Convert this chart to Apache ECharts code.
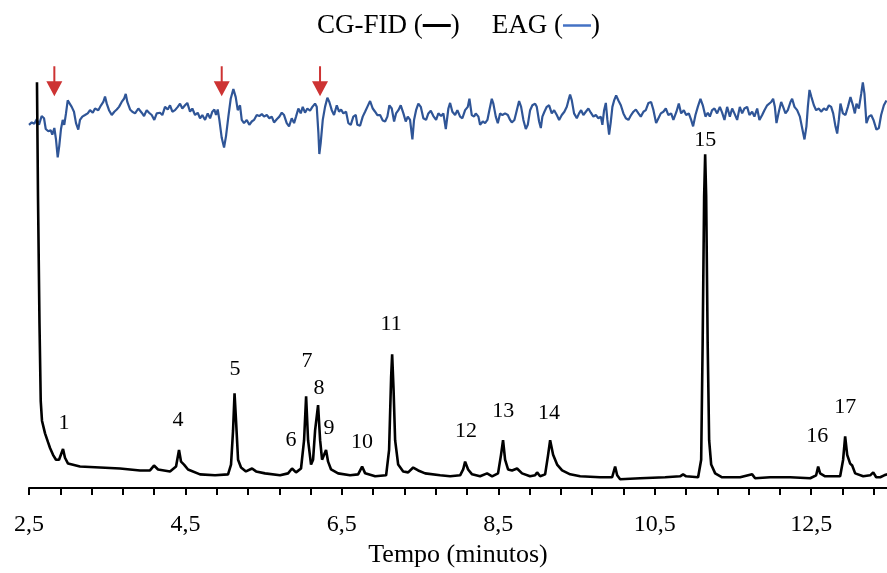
<!DOCTYPE html>
<html>
<head>
<meta charset="utf-8">
<script src="https://cdn.jsdelivr.net/npm/echarts@6/dist/echarts.min.js"></script>
<style>
  html, body { margin: 0; padding: 0; background: #fff; overflow: hidden; }
  #container { width: 887px; height: 573px; }
</style>
</head>
<body>
<div id="container"></div>
<script type="text/javascript">

// CG-FID trace: [tempo (min), sinal]
var fidTrace = [
  [2.602,41.6],[2.615,29.9],[2.634,16.9],[2.650,8.9],[2.666,6.9],[2.705,5.6],[2.743,4.7],[2.769,4.1],
  [2.807,3.4],[2.845,2.9],[2.884,2.9],[2.909,3.1],[2.935,4.0],[2.960,3.1],[2.999,2.5],[3.152,2.2],
  [3.408,2.1],[3.664,2.0],[3.919,1.8],[4.047,1.8],[4.098,2.3],[4.150,1.9],[4.303,1.7],[4.380,2.2],
  [4.418,3.9],[4.444,2.7],[4.482,2.4],[4.533,1.9],[4.687,1.4],[4.879,1.3],[5.045,1.4],[5.083,2.4],
  [5.109,5.9],[5.128,9.7],[5.147,6.9],[5.173,2.9],[5.211,2.1],[5.274,1.7],[5.352,2.0],[5.403,1.7],
  [5.518,1.5],[5.710,1.3],[5.812,1.5],[5.863,2.0],[5.914,1.6],[5.978,2.0],[6.017,4.9],[6.043,9.4],
  [6.068,4.9],[6.106,2.4],[6.132,2.9],[6.158,5.9],[6.196,8.5],[6.222,4.9],[6.247,2.9],[6.273,3.4],
  [6.298,3.9],[6.324,2.7],[6.362,1.9],[6.452,1.5],[6.605,1.3],[6.708,1.4],[6.759,2.2],[6.798,1.5],
  [6.926,1.2],[7.066,1.3],[7.104,3.9],[7.130,11.4],[7.143,13.7],[7.162,9.9],[7.181,4.9],[7.220,2.4],
  [7.284,1.7],[7.348,1.6],[7.412,2.1],[7.476,1.8],[7.565,1.5],[7.757,1.3],[7.885,1.2],[8.012,1.3],
  [8.051,1.9],[8.076,2.7],[8.114,1.9],[8.165,1.4],[8.267,1.2],[8.357,1.5],[8.421,1.2],[8.497,1.5],
  [8.535,3.4],[8.561,4.9],[8.587,2.9],[8.625,1.9],[8.676,1.8],[8.740,2.0],[8.804,1.5],[8.906,1.2],
  [8.971,1.3],[8.996,1.6],[9.035,1.2],[9.099,1.4],[9.137,3.4],[9.163,4.9],[9.201,3.4],[9.252,2.4],
  [9.316,1.8],[9.419,1.4],[9.547,1.2],[9.802,1.1],[9.956,1.1],[9.994,2.2],[10.020,1.3],[10.058,0.9],
  [10.314,1.0],[10.633,1.1],[10.825,1.2],[10.863,1.4],[10.902,1.2],[11.055,1.1],[11.094,2.9],[11.113,14.9],
  [11.132,29.9],[11.145,34.2],[11.158,29.9],[11.177,14.9],[11.196,4.9],[11.222,2.4],[11.273,1.5],[11.362,1.1],
  [11.592,1.1],[11.746,1.4],[11.784,1.0],[11.976,1.1],[12.232,1.1],[12.488,1.0],[12.564,1.3],[12.590,2.2],
  [12.615,1.5],[12.679,1.2],[12.769,1.2],[12.871,1.2],[12.909,2.9],[12.935,5.3],[12.961,3.4],[12.999,2.5],
  [13.025,2.3],[13.063,1.5],[13.166,1.2],[13.255,1.3],[13.294,1.6],[13.332,1.1],[13.383,1.1],[13.434,1.3],
  [13.472,1.4]
];

// EAG trace: [tempo (min), sinal]
var eagTrace = [
  [2.500,-0.47],[2.535,-0.23],[2.568,-0.37],[2.598,0.10],[2.628,-0.47],[2.662,0.43],[2.692,0.20],[2.714,-0.90],
  [2.747,-1.13],[2.777,-1.03],[2.798,-1.47],[2.824,-0.80],[2.845,-1.97],[2.867,-3.80],[2.887,-2.63],[2.909,-0.90],
  [2.931,0.03],[2.951,-0.47],[2.973,0.70],[2.995,2.03],[3.020,2.20],[3.046,1.37],[3.075,0.87],[3.101,-0.30],
  [3.130,-0.97],[3.152,0.03],[3.182,0.37],[3.216,0.53],[3.251,0.70],[3.280,1.03],[3.315,0.77],[3.344,1.20],
  [3.386,1.03],[3.421,1.53],[3.450,1.87],[3.472,2.43],[3.494,1.70],[3.523,1.03],[3.558,0.53],[3.591,0.87],
  [3.622,1.10],[3.651,1.37],[3.685,1.87],[3.715,2.20],[3.737,2.70],[3.757,1.87],[3.792,1.10],[3.821,0.87],
  [3.856,0.70],[3.898,1.20],[3.941,0.77],[3.971,0.43],[4.005,1.03],[4.035,0.77],[4.069,0.53],[4.102,0.03],
  [4.133,0.70],[4.175,0.77],[4.205,0.53],[4.239,1.37],[4.274,1.10],[4.303,1.53],[4.333,0.87],[4.367,1.03],
  [4.402,1.37],[4.431,1.70],[4.460,1.20],[4.495,1.53],[4.524,1.77],[4.559,0.87],[4.588,1.20],[4.623,0.53],
  [4.657,0.77],[4.687,0.20],[4.716,0.53],[4.751,0.03],[4.785,0.70],[4.815,0.20],[4.844,0.87],[4.870,1.10],
  [4.891,0.53],[4.913,1.10],[4.934,0.03],[4.964,-1.80],[4.994,-2.80],[5.019,-1.63],[5.049,0.37],[5.079,2.20],
  [5.113,3.20],[5.143,2.37],[5.169,1.03],[5.198,1.53],
  [5.220,0.03],[5.249,-0.30],[5.284,0.03],[5.317,-0.47],[5.348,-0.13],[5.377,0.03],[5.412,0.53],[5.445,0.43],
  [5.476,0.63],[5.505,0.37],[5.540,0.53],[5.573,0.20],[5.604,0.37],[5.633,-0.23],[5.668,0.10],[5.701,0.37],
  [5.732,0.77],[5.761,0.53],[5.795,-0.30],[5.825,-0.63],[5.859,0.20],[5.889,-0.30],[5.914,0.37],[5.944,1.20],
  [5.974,0.70],[6.000,1.37],[6.029,0.77],[6.059,1.20],[6.093,0.97],[6.123,1.37],[6.157,1.70],[6.179,1.37],
  [6.200,-1.30],[6.212,-3.47],[6.230,-2.30],[6.256,0.03],[6.285,1.37],[6.315,2.30],[6.340,1.87],[6.371,1.03],
  [6.400,0.53],[6.435,1.53],[6.464,0.87],[6.490,1.10],[6.519,0.70],[6.554,0.87],[6.583,-0.30],[6.614,-0.47],
  [6.647,0.37],[6.678,0.53],[6.698,-0.47],[6.733,-0.57],[6.767,0.37],[6.797,0.87],[6.826,1.37],[6.861,1.97],
  [6.895,1.20],[6.925,0.87],[6.954,0.53],[6.989,0.53],[7.023,-0.03],[7.053,-0.13],[7.082,0.37],[7.108,1.53],
  [7.138,1.20],[7.168,-0.13],[7.193,0.70],[7.223,1.03],[7.253,1.53],[7.287,0.70],[7.317,-0.13],[7.343,0.37],
  [7.372,0.03],[7.402,-1.97],[7.423,0.03],[7.449,1.03],[7.478,1.70],[7.509,1.37],[7.542,0.20],[7.577,0.03],
  [7.606,0.70],[7.637,0.97],[7.670,0.43],[7.705,0.03],[7.734,0.70],[7.769,0.43],[7.798,0.70],[7.829,-0.90],
  [7.862,1.20],[7.884,1.77],[7.913,0.87],[7.948,0.53],[7.977,1.03],[8.012,0.37],
  [8.041,0.20],[8.076,1.03],[8.110,1.37],[8.131,2.20],[8.161,0.53],[8.191,0.37],[8.212,0.70],[8.246,0.37],
  [8.267,-0.47],[8.302,-0.13],[8.331,-0.30],[8.361,0.03],[8.386,1.03],[8.417,2.20],[8.437,1.70],[8.468,0.37],
  [8.494,-0.30],[8.523,0.70],[8.553,0.53],[8.587,0.70],[8.622,0.53],[8.651,0.03],[8.673,-0.23],[8.706,0.03],
  [8.737,1.03],[8.766,1.97],[8.792,1.37],[8.821,0.03],[8.852,-0.90],[8.877,-0.47],[8.907,1.03],[8.936,1.53],
  [8.971,1.70],[8.992,1.37],[9.022,-0.13],[9.044,-0.80],[9.064,0.37],[9.090,0.87],[9.120,1.37],[9.150,1.53],
  [9.184,0.70],[9.214,1.03],[9.248,0.53],[9.278,0.03],[9.312,0.53],[9.345,0.87],[9.376,1.37],[9.397,2.03],
  [9.418,2.63],[9.440,2.03],[9.469,0.70],[9.504,0.20],[9.533,0.70],[9.559,1.03],[9.588,0.53],[9.619,0.87],
  [9.652,1.20],[9.683,0.77],[9.716,0.37],[9.747,0.53],[9.780,0.20],[9.811,0.37],[9.831,-0.47],[9.853,1.03],
  [9.875,1.77],[9.895,0.03],[9.917,-1.47],[9.939,-0.13],[9.959,1.37],[9.981,2.03],[10.007,2.53],[10.036,2.03],
  [10.067,1.53],[10.100,0.70],[10.131,0.20],[10.164,0.03],[10.198,0.53],[10.228,0.87],[10.259,1.10],[10.292,0.70],
  [10.322,0.37],[10.356,0.87],[10.386,1.03],[10.420,1.77],[10.454,1.87],[10.484,1.03],[10.518,-0.30],[10.548,0.20],
  [10.578,0.70],[10.611,0.87],[10.642,1.20],[10.675,0.53],[10.710,0.70],[10.739,0.03],
  [10.778,0.87],[10.808,1.70],[10.838,0.70],[10.872,1.03],[10.902,0.53],[10.936,0.70],[10.966,0.03],[10.991,-0.63],
  [11.021,0.53],[11.051,1.37],[11.085,2.20],[11.115,1.53],[11.149,0.37],[11.179,0.77],[11.205,0.37],[11.234,1.03],
  [11.264,1.20],[11.298,0.70],[11.333,1.37],[11.362,0.77],[11.392,0.03],[11.426,1.37],[11.461,0.37],[11.490,1.20],
  [11.519,0.70],[11.554,0.03],[11.588,1.37],[11.618,0.70],[11.647,1.20],[11.682,1.37],[11.711,0.53],[11.746,0.87],
  [11.775,0.37],[11.810,1.20],[11.839,0.03],[11.874,0.53],[11.903,1.03],[11.938,1.53],[11.959,1.37],[11.989,1.87],
  [12.014,2.20],[12.036,1.37],[12.057,-0.30],[12.087,0.87],[12.117,1.87],[12.142,1.37],[12.172,0.70],[12.202,1.03],
  [12.236,1.87],[12.257,2.20],[12.287,1.37],[12.321,1.03],[12.356,0.37],[12.385,-0.80],[12.415,-1.97],[12.440,-0.63],
  [12.458,1.37],[12.479,3.10],[12.504,2.37],[12.535,1.53],[12.564,1.03],[12.599,1.20],[12.628,0.87],[12.663,1.20],
  [12.696,1.03],[12.727,1.53],[12.756,1.37],[12.782,0.70],[12.811,-0.63],[12.833,-1.37],[12.854,0.03],[12.875,1.70],
  [12.906,0.70],[12.939,0.53],[12.970,1.37],[13.003,2.37],[13.034,1.53],[13.059,0.70],[13.080,1.70],[13.110,1.20],
  [13.140,2.70],[13.161,3.87],[13.182,2.70],[13.207,-0.30],[13.238,0.37],[13.268,0.53],[13.297,0.03],[13.335,-0.97],
  [13.366,-0.80],[13.395,0.53],[13.430,1.53],[13.463,2.03]
];

// peak numbers and where their labels sit
var peakNames = ['1', '4', '5', '6', '7', '8', '9', '10', '11', '12', '13', '14', '15', '16', '17'];
var peakLabelTime = [2.948, 4.405, 5.134, 5.850, 6.055, 6.209, 6.336, 6.758, 7.129, 8.088, 8.562, 9.150, 11.145, 12.577, 12.935];
var peakLabelLevel = [6.6, 6.9, 12.2, 4.9, 13.0, 10.2, 6.1, 4.7, 16.8, 5.8, 7.9, 7.7, 35.6, 5.3, 8.3];

// EAG-active times (red arrows)
var arrowTimes = [2.824, 4.964, 6.221];
var arrowLevel = 4.0;

var tickValues = [2.5, 2.9, 3.3, 3.7, 4.1, 4.5, 4.9, 5.3, 5.7, 6.1, 6.5, 6.9, 7.3, 7.7, 8.1, 8.5, 8.9, 9.3, 9.7,
                  10.1, 10.5, 10.9, 11.3, 11.7, 12.1, 12.5, 12.9, 13.3];
var labelValues = [2.5, 4.5, 6.5, 8.5, 10.5, 12.5];

var serif = 'Liberation Serif, Times New Roman, serif';

var dom = document.getElementById("container");
var myChart = echarts.init(dom);

var peakData = [];
for (var i = 0; i < peakNames.length; i++) {
    peakData.push({ name: peakNames[i], value: [peakLabelTime[i], peakLabelLevel[i]] });
}
var arrowData = [];
for (var j = 0; j < arrowTimes.length; j++) {
    arrowData.push([arrowTimes[j], arrowLevel]);
}

var option = {
    animation: false,
    legend: {
        left: 307,
        top: 7,
        itemWidth: 0,
        itemHeight: 0,
        itemGap: 27,
        selectedMode: false,
        data: [{ name: 'CG-FID', icon: 'none' }, { name: 'EAG', icon: 'none' }],
        formatter: function (name) {
            return name + ' ({' + (name === 'EAG' ? 'b' : 'k') + '| })';
        },
        textStyle: {
            fontFamily: serif,
            fontSize: 27,
            color: '#000',
            rich: {
                k: { width: 28, height: 3, backgroundColor: '#000' },
                b: { width: 28, height: 2.5, backgroundColor: '#4472C4' }
            }
        }
    },
    grid: { left: 29, right: 0, top: 49, bottom: 74, containLabel: false },
    xAxis: {
        type: 'value',
        min: 2.5,
        max: 13.47,
        name: 'Tempo (minutos)',
        nameLocation: 'middle',
        nameGap: 54,
        nameTextStyle: { fontFamily: serif, fontSize: 26, color: '#000' },
        axisLine: { show: true, onZero: false, lineStyle: { color: '#000', width: 2 } },
        axisTick: { show: true, inside: false, length: 7, customValues: tickValues, lineStyle: { color: '#000', width: 2 } },
        axisLabel: {
            customValues: labelValues,
            margin: 25,
            fontFamily: serif,
            fontSize: 24,
            color: '#000',
            formatter: function (v) { return v.toFixed(1).replace('.', ','); }
        },
        splitLine: { show: false }
    },
    yAxis: [
        { type: 'value', min: 0, max: 45, show: false, splitLine: { show: false } },
        { type: 'value', min: -37.7, max: 7.3, show: false, splitLine: { show: false } }
    ],
    series: [
        {
            name: 'CG-FID',
            type: 'line',
            data: fidTrace,
            showSymbol: false,
            symbol: 'none',
            itemStyle: { color: '#000' },
            lineStyle: { color: '#000', width: 2.6 },
            z: 3
        },
        {
            name: 'EAG',
            type: 'line',
            yAxisIndex: 1,
            data: eagTrace,
            showSymbol: false,
            symbol: 'none',
            itemStyle: { color: '#2F5597' },
            lineStyle: { color: '#2F5597', width: 2.2 },
            z: 2
        },
        {
            name: 'picos',
            type: 'scatter',
            data: peakData,
            symbolSize: 0,
            itemStyle: { color: '#000', opacity: 0 },
            label: {
                show: true,
                position: 'inside',
                formatter: '{b}',
                fontFamily: serif,
                fontSize: 22,
                color: '#000',
                opacity: 1,
                textBorderWidth: 0
            },
            z: 4
        },
        {
            name: 'setas',
            type: 'scatter',
            yAxisIndex: 1,
            data: arrowData,
            symbol: 'path://M7,0 L9,0 L9,15 L16,15 L8,30 L0,15 L7,15 Z',
            symbolSize: [16, 30],
            itemStyle: { color: '#C00000' },
            z: 5
        }
    ]
};

if (option && typeof option === "object") {
    myChart.setOption(option, true);
}
</script>
</body>
</html>
